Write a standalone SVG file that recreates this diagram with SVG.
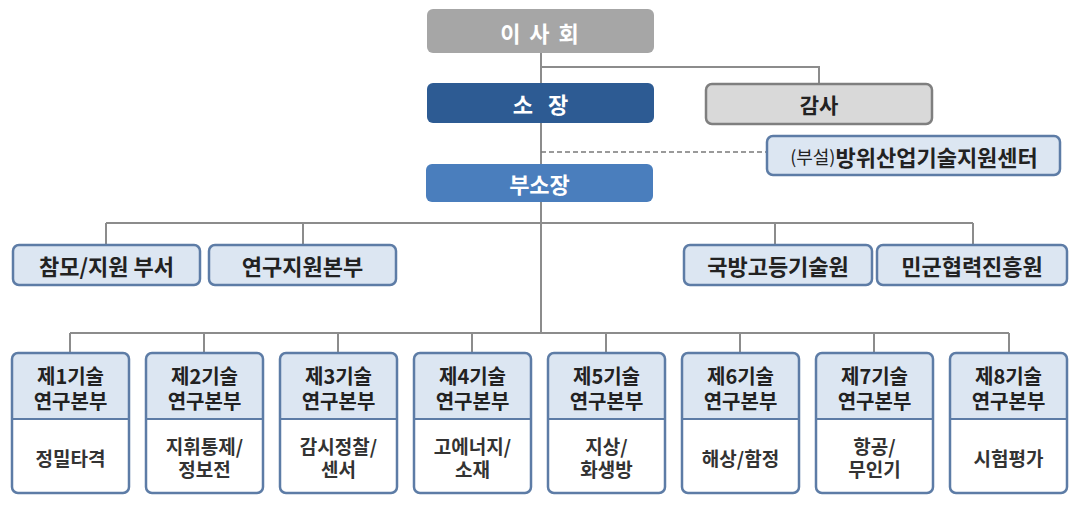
<svg xmlns="http://www.w3.org/2000/svg" width="1080" height="508" viewBox="0 0 1080 508">
<style>
text{font-family:"Noto Sans CJK KR","Noto Sans",sans-serif;font-weight:bold;text-anchor:middle;dominant-baseline:central}
.conn{stroke:#8c8c8c;stroke-width:2;fill:none}
.dash{stroke:#7a7a7a;stroke-width:1.5;stroke-dasharray:5,3;fill:none}
.lb{fill:#dce6f2;stroke:#5d7ca6;stroke-width:2.5}
.wt{fill:#fff}
.ol{fill:none;stroke:#5d7ca6;stroke-width:2.5}
.t20{font-size:20px;fill:#222}
.t18{font-size:19px;fill:#333;font-weight:600}
.t22{font-size:22px;fill:#222}
</style>
<rect width="1080" height="508" fill="#fff"/>
<g id="connectors">
<path class="conn" d="M541 53V333M541 67H819V84M106 223H973M106 223V245M303 223V245M775 223V245M973 223V245M70 333H1009M70 333V353M204 333V353M338 333V353M472 333V353M606 333V353M740 333V353M874 333V353M1009 333V353"/>
<path class="dash" d="M541 152H767"/>
</g>
<g id="n-board">
<rect x="427" y="9" width="227" height="44" rx="6" fill="#a6a6a6"/>
<text x="540.5" y="32" font-size="22" fill="#fff" letter-spacing="2">이 사 회</text>
</g>
<g id="n-director">
<rect x="427" y="83" width="227" height="40" rx="6" fill="#2d5b93"/>
<text x="540.5" y="103" font-size="22" fill="#fff" xml:space="preserve">소   장</text>
</g>
<g id="n-audit">
<rect x="706" y="84" width="226" height="40" rx="6" fill="#d9d9d9" stroke="#7f7f7f" stroke-width="2.5"/>
<text x="819" y="104" font-size="21" fill="#222">감사</text>
</g>
<g id="n-center">
<rect class="lb" x="767" y="136" width="293" height="39" rx="6"/>
<text x="914" y="156" class="t22"><tspan font-size="18" font-weight="normal">(부설)</tspan><tspan font-size="22">방위산업기술지원센터</tspan></text>
</g>
<g id="n-deputy">
<rect x="426" y="164" width="227" height="38" rx="6" fill="#4a7ebd"/>
<text x="539.5" y="183" font-size="22" fill="#fff">부소장</text>
</g>
<g id="n-staff">
<rect class="lb" x="13" y="245" width="187" height="40" rx="6"/>
<text class="t22" x="106.5" y="265">참모/지원 부서</text>
</g>
<g id="n-rsupport">
<rect class="lb" x="209" y="245" width="187" height="40" rx="6"/>
<text class="t22" x="302.5" y="265">연구지원본부</text>
</g>
<g id="n-adv">
<rect class="lb" x="684" y="245" width="188" height="40" rx="6"/>
<text class="t22" x="778" y="265">국방고등기술원</text>
</g>
<g id="n-civil">
<rect class="lb" x="877" y="245" width="190" height="40" rx="6"/>
<text class="t22" x="972" y="265">민군협력진흥원</text>
</g>
<defs>
<g id="card">
<rect class="wt" x="0" y="0" width="117" height="140" rx="6"/>
<path d="M0 66V6A6 6 0 0 1 6 0H111A6 6 0 0 1 117 6V66Z" fill="#dce6f2"/>
<path d="M0 66H117" stroke="#5d7ca6" stroke-width="2"/>
<rect class="ol" x="0" y="0" width="117" height="140" rx="6"/>
<text class="t20" x="58.5" y="47">연구본부</text>
</g>
</defs>
<g id="n-r1" transform="translate(12,353)">
<use href="#card"/>
<text class="t20" x="58.5" y="22">제1기술</text>
<text class="t18" x="58.5" y="104">정밀타격</text>
</g>
<g id="n-r2" transform="translate(146,353)">
<use href="#card"/>
<text class="t20" x="58.5" y="22">제2기술</text>
<text class="t18" x="58.5" y="92">지휘통제/</text>
<text class="t18" x="58.5" y="115">정보전</text>
</g>
<g id="n-r3" transform="translate(280,353)">
<use href="#card"/>
<text class="t20" x="58.5" y="22">제3기술</text>
<text class="t18" x="58.5" y="92">감시정찰/</text>
<text class="t18" x="58.5" y="115">센서</text>
</g>
<g id="n-r4" transform="translate(414,353)">
<use href="#card"/>
<text class="t20" x="58.5" y="22">제4기술</text>
<text class="t18" x="58.5" y="92">고에너지/</text>
<text class="t18" x="58.5" y="115">소재</text>
</g>
<g id="n-r5" transform="translate(548,353)">
<use href="#card"/>
<text class="t20" x="58.5" y="22">제5기술</text>
<text class="t18" x="58.5" y="92">지상/</text>
<text class="t18" x="58.5" y="115">화생방</text>
</g>
<g id="n-r6" transform="translate(682,353)">
<use href="#card"/>
<text class="t20" x="58.5" y="22">제6기술</text>
<text class="t18" x="58.5" y="104">해상/함정</text>
</g>
<g id="n-r7" transform="translate(816,353)">
<use href="#card"/>
<text class="t20" x="58.5" y="22">제7기술</text>
<text class="t18" x="58.5" y="92">항공/</text>
<text class="t18" x="58.5" y="115">무인기</text>
</g>
<g id="n-r8" transform="translate(950,353)">
<use href="#card"/>
<text class="t20" x="58.5" y="22">제8기술</text>
<text class="t18" x="58.5" y="104">시험평가</text>
</g>
</svg>
